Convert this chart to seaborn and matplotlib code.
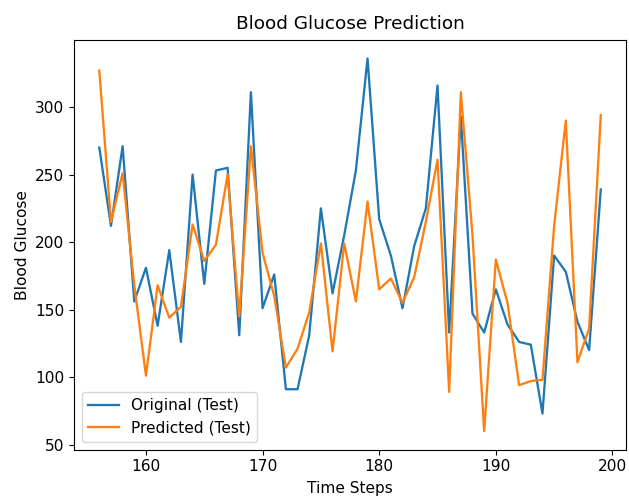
import numpy as np
import pandas as pd
import matplotlib.pyplot as plt
import seaborn as sns

# Time steps of the test set
time_steps = list(range(156, 200))

# Original (test) glucose values
original = [270, 212, 271, 156, 181, 138, 194, 126, 250, 169,
            253, 255, 131, 311, 151, 176, 91, 91, 131, 225,
            162, 205, 253, 336, 217, 190, 151, 197, 225, 316,
            133, 293, 147, 133, 165, 139, 126, 124, 73, 190,
            178, 141, 120, 239]

# Predicted (test) glucose values
predicted = [327, 215, 251, 168, 101, 168, 144, 152, 213, 186,
             198, 250, 145, 271, 192, 160, 107, 121, 148, 199,
             119, 199, 156, 230, 165, 173, 155, 174, 215, 261,
             89, 311, 205, 60, 187, 155, 94, 97, 98, 212,
             290, 111, 136, 294]

df = pd.DataFrame({
    'Time Steps': time_steps + time_steps,
    'Blood Glucose': original + predicted,
    'series': ['Original (Test)'] * len(original) + ['Predicted (Test)'] * len(predicted),
})

# reference looks like a slightly upscaled default figure
plt.rcParams['font.size'] = 11.1
plt.rcParams['lines.linewidth'] = 1.65

fig, ax = plt.subplots(figsize=(6.29, 4.98), dpi=100)
sns.lineplot(data=df, x='Time Steps', y='Blood Glucose', hue='series',
             palette=['tab:blue', 'tab:orange'], ax=ax)
ax.set_title('Blood Glucose Prediction', pad=8)
ax.set_xlabel('Time Steps', labelpad=4.5)
ax.set_ylabel('Blood Glucose')
ax.legend(loc='lower left')
plt.subplots_adjust(left=0.118, right=0.995, top=0.92, bottom=0.097)
plt.savefig('out.png', dpi=100)
